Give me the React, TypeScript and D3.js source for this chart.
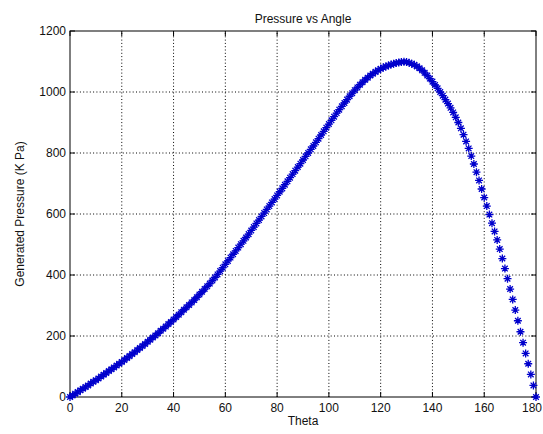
import React from "react";
import * as d3 from "d3";

const thetaDeg: number[] = Array.from({ length: 181 }, (_, i) => i);
const pressure: number[] = [
  0, 5, 11, 16, 22, 27, 33, 38, 44, 50,
  55, 61, 67, 73, 79, 85, 91, 97, 103, 109,
  115, 121, 128, 134, 141, 147, 154, 161, 167, 174,
  181, 188, 195, 202, 209, 217, 224, 231, 239, 246,
  254, 262, 270, 278, 286, 294, 302, 310, 318, 327,
  336, 345, 354, 363, 372, 382, 392, 402, 413, 424,
  435, 446, 457, 468, 479, 490, 501, 512, 523, 534,
  546, 557, 569, 580, 592, 603, 615, 626, 638, 649,
  661, 673, 684, 696, 707, 719, 731, 742, 754, 765,
  777, 789, 800, 812, 823, 835, 847, 859, 871, 883,
  895, 907, 919, 931, 942, 953, 964, 975, 986, 996,
  1006, 1015, 1024, 1032, 1040, 1047, 1054, 1060, 1066, 1071,
  1076, 1080, 1084, 1087, 1090, 1093, 1095, 1097, 1098, 1099,
  1098, 1096, 1093, 1089, 1084, 1078, 1071, 1063, 1054, 1044,
  1034, 1023, 1012, 1000, 988, 975, 962, 948, 933, 917,
  900, 881, 860, 838, 815, 790, 764, 737, 710, 682,
  654, 626, 598, 570, 543, 515, 485, 454, 421, 388,
  354, 320, 285, 250, 214, 178, 143, 109, 74, 38,
  0,
];
const xTicks: number[] = [0, 20, 40, 60, 80, 100, 120, 140, 160, 180];
const yTicks: number[] = [0, 200, 400, 600, 800, 1000, 1200];
const titleText = "Pressure vs Angle";
const xLabelText = "Theta";
const yLabelText = "Generated Pressure (K Pa)";

const W = 543;
const H = 434;
const M = { left: 70, right: 7, top: 31, bottom: 37 };

export default function App() {
  const x = d3.scaleLinear().domain([0, 180]).range([M.left, W - M.right]);
  const y = d3.scaleLinear().domain([0, 1200]).range([H - M.bottom, M.top]);
  const x0 = x.range()[0], x1 = x.range()[1];
  const y0 = y.range()[0], y1 = y.range()[1];
  const r = 4;
  const a = r * 0.7;
  const star = `M${-r},0H${r}M0,${-r}V${r}M${-a},${-a}L${a},${a}M${-a},${a}L${a},${-a}`;
  const font = "'Liberation Sans', Arial, Helvetica, sans-serif";
  const tick = 5;
  return (
    <svg
      width={W}
      height={H}
      style={{ position: "absolute", left: 0, top: 0, background: "#fff" }}
      fontFamily={font}
    >
      <rect x={0} y={0} width={W} height={H} fill="#fff" />
      {xTicks.slice(1, -1).map((t) => (
        <line key={"gx" + t} x1={x(t)} x2={x(t)} y1={y0} y2={y1} stroke="#000" strokeWidth={1} strokeDasharray="1,2.3" />
      ))}
      {yTicks.slice(1, -1).map((t) => (
        <line key={"gy" + t} x1={x0} x2={x1} y1={y(t)} y2={y(t)} stroke="#000" strokeWidth={1} strokeDasharray="1,2.3" />
      ))}
      {xTicks.map((t, i) => (
        <g key={"tx" + t}>
          <line x1={x(t)} x2={x(t)} y1={y0} y2={y0 - tick} stroke="#000" />
          <line x1={x(t)} x2={x(t)} y1={y1} y2={y1 + tick} stroke="#000" />
          <text
            x={i === xTicks.length - 1 ? W - 1 : x(t)}
            y={y0 + 15}
            fontSize={12}
            textAnchor={i === xTicks.length - 1 ? "end" : "middle"}
            fill="#111"
          >
            {t}
          </text>
        </g>
      ))}
      {yTicks.map((t) => (
        <g key={"ty" + t}>
          <line x1={x0} x2={x0 + tick} y1={y(t)} y2={y(t)} stroke="#000" />
          <line x1={x1} x2={x1 - tick} y1={y(t)} y2={y(t)} stroke="#000" />
          <text x={x0 - 4} y={y(t) + 4} fontSize={12} textAnchor="end" fill="#111">{t}</text>
        </g>
      ))}
      <rect x={x0} y={y1} width={x1 - x0} height={y0 - y1} fill="none" stroke="#000" strokeWidth={1} />
      <g stroke="#0000cc" strokeWidth={1.3} fill="none">
        {thetaDeg.map((t, i) => (
          <path key={"p" + i} d={star} transform={`translate(${x(t)},${y(pressure[i])})`} />
        ))}
      </g>
      <text x={(x0 + x1) / 2} y={23} fontSize={12} textAnchor="middle" fill="#111">{titleText}</text>
      <text x={(x0 + x1) / 2} y={y0 + 28} fontSize={12} textAnchor="middle" fill="#111">{xLabelText}</text>
      <text
        transform={`translate(24,${(y0 + y1) / 2}) rotate(-90)`}
        fontSize={12}
        textAnchor="middle"
        fill="#111"
      >
        {yLabelText}
      </text>
    </svg>
  );
}
